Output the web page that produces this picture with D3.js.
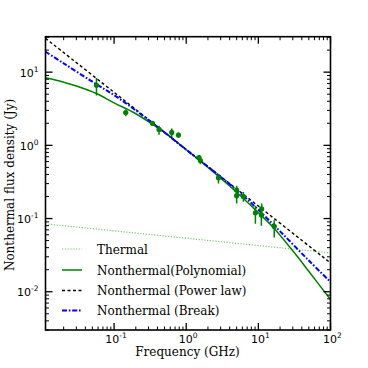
<!DOCTYPE html>
<html><head><meta charset="utf-8">
<script src="https://cdn.jsdelivr.net/npm/d3@7"></script>
<style>body{margin:0;background:#fff}svg{display:block}</style>
</head><body>
<svg id="c" width="368" height="368"></svg>
<script>
// Observed data points (GHz, Jy) with error bars
const obsFreq = [0.057, 0.145, 0.34, 0.42, 0.63, 0.78, 1.5, 1.57, 2.8, 5.0, 5.0, 6.2, 9.1, 11.1, 11.0, 16.6];
const obsFlux = [6.6, 2.8, 2.0, 1.65, 1.5, 1.38, 0.68, 0.62, 0.36, 0.245, 0.205, 0.2, 0.12, 0.136, 0.112, 0.078];
const obsLo   = [4.8, 2.5, 1.85, 1.4, 1.3, 1.26, 0.62, 0.55, 0.3, 0.2, 0.16, 0.17, 0.085, 0.1, 0.08, 0.055];
const obsHi   = [8.3, 3.1, 2.15, 1.85, 1.7, 1.5, 0.74, 0.7, 0.4, 0.28, 0.25, 0.23, 0.15, 0.16, 0.14, 0.095];

// Model curves
const thermalFreq = [0.0112, 100];
const thermalFlux = [0.0846, 0.0339];
const polyFreq = [0.0112, 0.02, 0.0316, 0.057, 0.1, 0.2, 0.5, 1, 2, 5, 10, 16, 31.6, 50, 100];
const polyFlux = [8.36, 7.3, 6.35, 5.1, 3.8, 2.7, 1.5, 0.87, 0.5, 0.229, 0.12, 0.076, 0.034, 0.019, 0.0078];
const plawFreq = [0.0112, 0.1, 1, 10, 100];
const plawFlux = [29, 5.3, 0.88, 0.148, 0.0247];
const breakFreq = [0.0112, 0.02, 0.05, 0.1, 0.2, 0.5, 1, 2, 5, 10, 20, 50, 100];
const breakFlux = [19, 13.2, 7.4, 4.85, 3.0, 1.5, 0.87, 0.51, 0.245, 0.1315, 0.0668, 0.0267, 0.0136];

const legendLabels = ["Thermal", "Nonthermal(Polynomial)", "Nonthermal (Power law)", "Nonthermal (Break)"];
const xTickExp = [-1, 0, 1, 2];
const yTickExp = [-2, -1, 0, 1];

const svg = d3.select("#c");
const L = 45.5, R = 330.5, T = 36.7, B = 330;
const x = d3.scaleLog().domain([0.0112, 100]).range([L, R]);
const y = d3.scaleLog().domain([0.003, 30.5]).range([B, T]);

svg.append("defs").append("clipPath").attr("id", "clip")
  .append("rect").attr("x", L).attr("y", T).attr("width", R - L).attr("height", B - T);
const g = svg.append("g").attr("clip-path", "url(#clip)");

const line = d3.line().x(d => x(d[0])).y(d => y(d[1])).curve(d3.curveCatmullRom.alpha(0.5));
const zip = (a, b) => a.map((v, i) => [v, b[i]]);

const styles = [
  {stroke: "#72c872", width: 1.2, dash: "1.2,1.6"},
  {stroke: "#008000", width: 1.5, dash: null},
  {stroke: "#000000", width: 1.4, dash: "3,2.5"},
  {stroke: "#0000ff", width: 2, dash: "5,1.8,1.6,1.8"}
];
const series = [zip(thermalFreq, thermalFlux), zip(polyFreq, polyFlux), zip(plawFreq, plawFlux), zip(breakFreq, breakFlux)];
series.forEach((s, i) => {
  g.append("path").datum(s).attr("d", line).attr("fill", "none")
    .attr("stroke", styles[i].stroke).attr("stroke-width", styles[i].width)
    .attr("stroke-dasharray", styles[i].dash);
});

// error bars and points
obsFreq.forEach((f, i) => {
  g.append("line").attr("x1", x(f)).attr("x2", x(f)).attr("y1", y(obsLo[i])).attr("y2", y(obsHi[i]))
    .attr("stroke", "#008000").attr("stroke-width", 1.5);
  g.append("circle").attr("cx", x(f)).attr("cy", y(obsFlux[i])).attr("r", 2.6).attr("fill", "#008000");
});

// frame
svg.append("rect").attr("x", L).attr("y", T).attr("width", R - L).attr("height", B - T)
  .attr("fill", "none").attr("stroke", "#000").attr("stroke-width", 1.6);

// ticks (inward, all four sides)
const xMajor = xTickExp.map(e => Math.pow(10, e));
const xMinor = [];
for (let e = -2; e < 2; e++) for (let k = 2; k <= 9; k++) { const v = k * Math.pow(10, e); if (v >= 0.0112 && v <= 100) xMinor.push(v); }
const yMajor = yTickExp.map(e => Math.pow(10, e));
const yMinor = [];
for (let e = -3; e < 2; e++) for (let k = 2; k <= 9; k++) { const v = k * Math.pow(10, e); if (v >= 0.003 && v <= 30.5) yMinor.push(v); }
const tk = svg.append("g").attr("stroke", "#000");
const maj = 7, mnr = 3.5;
xMajor.forEach(v => {
  tk.append("line").attr("x1", x(v)).attr("x2", x(v)).attr("y1", B).attr("y2", B - maj).attr("stroke-width", 1.3);
  tk.append("line").attr("x1", x(v)).attr("x2", x(v)).attr("y1", T).attr("y2", T + maj).attr("stroke-width", 1.3);
});
xMinor.forEach(v => {
  tk.append("line").attr("x1", x(v)).attr("x2", x(v)).attr("y1", B).attr("y2", B - mnr).attr("stroke-width", 1);
  tk.append("line").attr("x1", x(v)).attr("x2", x(v)).attr("y1", T).attr("y2", T + mnr).attr("stroke-width", 1);
});
yMajor.forEach(v => {
  tk.append("line").attr("y1", y(v)).attr("y2", y(v)).attr("x1", L).attr("x2", L + maj).attr("stroke-width", 1.3);
  tk.append("line").attr("y1", y(v)).attr("y2", y(v)).attr("x1", R).attr("x2", R - maj).attr("stroke-width", 1.3);
});
yMinor.forEach(v => {
  tk.append("line").attr("y1", y(v)).attr("y2", y(v)).attr("x1", L).attr("x2", L + mnr).attr("stroke-width", 1);
  tk.append("line").attr("y1", y(v)).attr("y2", y(v)).attr("x1", R).attr("x2", R - mnr).attr("stroke-width", 1);
});

// tick labels
const tf = "DejaVu Sans";
xTickExp.forEach(e => {
  const t = svg.append("text").attr("x", x(Math.pow(10, e)) + 2).attr("y", B + 12.5)
    .attr("text-anchor", "middle").attr("font-family", tf).attr("font-size", 11).attr("fill", "#000");
  t.append("tspan").text("10");
  t.append("tspan").attr("dy", -5).attr("font-size", 7.5).text(e < 0 ? "-" + Math.abs(e) : String(e));
});
yTickExp.forEach(e => {
  const t = svg.append("text").attr("x", L - 7).attr("y", y(Math.pow(10, e)) + 4.5)
    .attr("text-anchor", "end").attr("font-family", tf).attr("font-size", 11).attr("fill", "#000");
  t.append("tspan").text("10");
  t.append("tspan").attr("dy", -5).attr("font-size", 7.5).text(e < 0 ? "-" + Math.abs(e) : String(e));
});

// axis labels
const sf = "DejaVu Serif";
svg.append("text").attr("x", 187.5).attr("y", 356).attr("text-anchor", "middle")
  .attr("font-family", sf).attr("font-size", 12).text("Frequency (GHz)");
svg.append("text").attr("transform", "translate(14," + 185 + ") rotate(-90)").attr("text-anchor", "middle")
  .attr("font-family", sf).attr("font-size", 12).text("Nonthermal flux density (Jy)");

// legend
const legY = [249, 270, 290.5, 310.5];
legendLabels.forEach((lab, i) => {
  svg.append("line").attr("x1", 62).attr("x2", 82).attr("y1", legY[i]).attr("y2", legY[i])
    .attr("stroke", styles[i].stroke).attr("stroke-width", styles[i].width).attr("stroke-dasharray", styles[i].dash);
  svg.append("text").attr("x", 97).attr("y", legY[i] + 4.5).attr("font-family", sf).attr("font-size", 12).text(lab);
});
</script>
</body></html>
